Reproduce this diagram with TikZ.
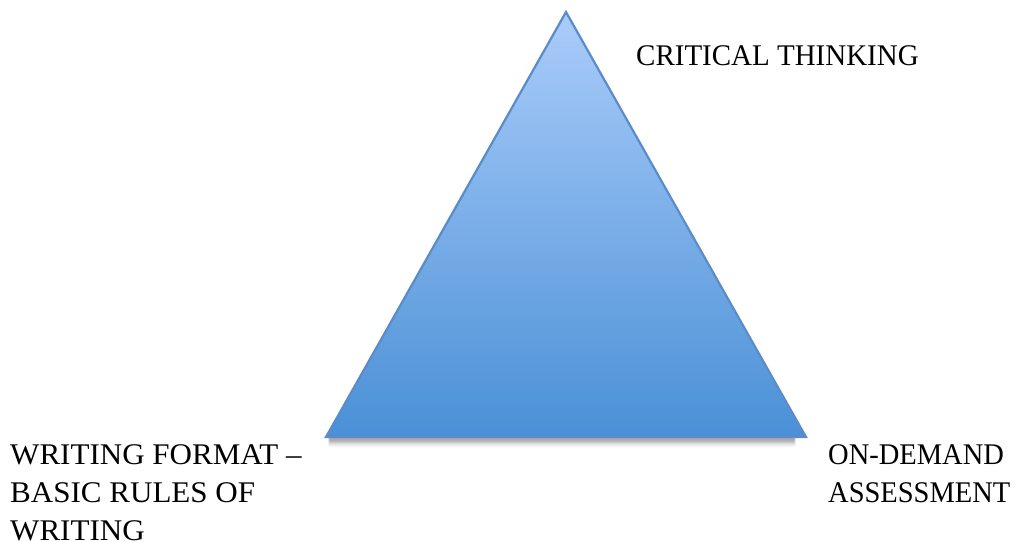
\documentclass[tikz,border=0pt]{standalone}
\usepackage{fontspec}
\setmainfont{Liberation Serif}
\newfontfamily\ctfont[FakeStretch=0.966]{Liberation Serif}
\newfontfamily\odfont[FakeStretch=0.95]{Liberation Serif}
\newfontfamily\wffont[FakeStretch=1.035]{Liberation Serif}
\usetikzlibrary{calc}
\definecolor{topblue}{RGB}{170,204,250}
\definecolor{botblue}{RGB}{74,144,214}
\definecolor{edgeblue}{RGB}{92,140,200}
\tikzset{
  lbl/.style={inner sep=0pt, font=\fontsize{30}{38}\selectfont, text=black, align=left},
}
\begin{document}
\begin{tikzpicture}[x=1pt,y=-1pt]
\useasboundingbox (0,0) rectangle (1016,541);
\coordinate (apex) at (566,12);
\coordinate (bl) at (326,437);
\coordinate (br) at (806,437);
% shadow
\foreach \d/\o in {0/0.25,1/0.30,2/0.30,3/0.28,4/0.24,5/0.18,6/0.13,7/0.09,8/0.05,9/0.03}{
  \fill[black,opacity=\o] ($(bl)+(2,\d)$) -- ($(br)+(-10,\d)$) -- ($(br)+(-12,\d+1)$) -- ($(bl)+(4,\d+1)$) -- cycle;
}
\shade[top color=topblue,bottom color=botblue,draw=edgeblue,line width=2.2pt,line join=miter] (apex) -- (br) -- (bl) -- cycle;
\node[lbl,anchor=base west] (ct) at (636,65) {\ctfont CRITICAL THINKING};
\node[lbl,anchor=north west] (wf) at (10,444) {\wffont WRITING FORMAT –\\\wffont BASIC RULES OF\\\wffont WRITING};
\node[lbl,anchor=north west] (od) at (828,444) {\odfont ON-DEMAND\\\odfont ASSESSMENT};
\end{tikzpicture}
\end{document}
